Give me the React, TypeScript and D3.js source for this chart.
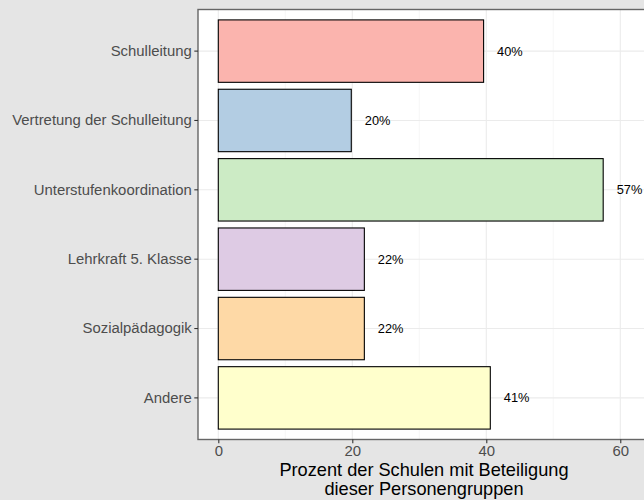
import React, { useEffect, useRef } from "react";
import * as d3 from "d3";

const categories = [
  "Schulleitung",
  "Vertretung der Schulleitung",
  "Unterstufenkoordination",
  "Lehrkraft 5. Klasse",
  "Sozialpädagogik",
  "Andere",
];
const values = [39.6, 19.85, 57.45, 21.8, 21.8, 40.6];
const labels = ["40%", "20%", "57%", "22%", "22%", "41%"];
const colors = ["#FBB4AE", "#B3CDE3", "#CCEBC5", "#DECBE4", "#FED9A6", "#FFFFCC"];
const xTicks = [0, 20, 40, 60];
const xMinor = [10, 30, 50];

const App = () => {
  const svgRef = useRef<SVGSVGElement | null>(null);

  useEffect(() => {
    const width = 644;
    const height = 500;
    const panel = { left: 198, top: 9.5, right: 646, bottom: 439.5 };
    const font = "'Liberation Sans', Arial, sans-serif";

    const svg = d3.select(svgRef.current);
    svg.selectAll("*").remove();
    svg.attr("width", width).attr("height", height);

    svg.append("rect").attr("width", width).attr("height", height).attr("fill", "#e5e5e5");

    // x scale with ggplot-style 5% expansion
    const x = d3
      .scaleLinear()
      .domain([-3.03, 63.84])
      .range([panel.left, panel.right]);

    // discrete y with 0.6 expansion on each side
    const y = d3
      .scaleBand()
      .domain(categories)
      .range([panel.top, panel.bottom])
      .paddingInner(0.1)
      .paddingOuter(0.15);

    // panel
    svg
      .append("rect")
      .attr("x", panel.left)
      .attr("y", panel.top)
      .attr("width", panel.right - panel.left)
      .attr("height", panel.bottom - panel.top)
      .attr("fill", "white");

    const grid = svg.append("g");
    grid
      .selectAll("line.minor")
      .data(xMinor)
      .join("line")
      .attr("x1", (d) => x(d))
      .attr("x2", (d) => x(d))
      .attr("y1", panel.top)
      .attr("y2", panel.bottom)
      .attr("stroke", "#f0f0f0")
      .attr("stroke-width", 0.6);
    grid
      .selectAll("line.major")
      .data(xTicks)
      .join("line")
      .attr("x1", (d) => x(d))
      .attr("x2", (d) => x(d))
      .attr("y1", panel.top)
      .attr("y2", panel.bottom)
      .attr("stroke", "#ebebeb")
      .attr("stroke-width", 1.1);
    grid
      .selectAll("line.h")
      .data(categories)
      .join("line")
      .attr("x1", panel.left)
      .attr("x2", panel.right)
      .attr("y1", (d) => y(d)! + y.bandwidth() / 2)
      .attr("y2", (d) => y(d)! + y.bandwidth() / 2)
      .attr("stroke", "#ebebeb")
      .attr("stroke-width", 1.1);

    // bars
    svg
      .append("g")
      .selectAll("rect")
      .data(categories)
      .join("rect")
      .attr("x", x(0))
      .attr("y", (d) => y(d)!)
      .attr("width", (d, i) => x(values[i]) - x(0))
      .attr("height", y.bandwidth())
      .attr("fill", (d, i) => colors[i])
      .attr("stroke", "black")
      .attr("stroke-width", 1.1);

    // value labels
    svg
      .append("g")
      .selectAll("text")
      .data(categories)
      .join("text")
      .attr("x", (d, i) => x(values[i]) + 13.5)
      .attr("y", (d) => y(d)! + y.bandwidth() / 2)
      .attr("dy", "0.35em")
      .attr("font-family", font)
      .attr("font-size", 12.8)
      .attr("fill", "black")
      .text((d, i) => labels[i]);

    // panel border
    svg
      .append("rect")
      .attr("x", panel.left)
      .attr("y", panel.top)
      .attr("width", panel.right - panel.left)
      .attr("height", panel.bottom - panel.top)
      .attr("fill", "none")
      .attr("stroke", "#666666")
      .attr("stroke-width", 1.4);

    // y axis
    const yAxis = svg
      .append("g")
      .attr("transform", `translate(${panel.left},0)`)
      .call(d3.axisLeft(y).tickSize(3.7).tickPadding(2.5));
    yAxis.select(".domain").remove();
    yAxis.selectAll(".tick line").attr("stroke", "#333333").attr("stroke-width", 1.1);
    yAxis
      .selectAll(".tick text")
      .attr("font-family", font)
      .attr("font-size", 14.9)
      .attr("fill", "#4d4d4d");

    // x axis
    const xAxis = svg
      .append("g")
      .attr("transform", `translate(0,${panel.bottom})`)
      .call(d3.axisBottom(x).tickValues(xTicks).tickSize(3.7).tickPadding(2.5));
    xAxis.select(".domain").remove();
    xAxis.selectAll(".tick line").attr("stroke", "#333333").attr("stroke-width", 1.1);
    xAxis
      .selectAll(".tick text")
      .attr("font-family", font)
      .attr("font-size", 14.9)
      .attr("fill", "#4d4d4d");

    // axis title
    const cx = 424;
    const title = svg
      .append("text")
      .attr("x", cx)
      .attr("y", 476)
      .attr("text-anchor", "middle")
      .attr("font-family", font)
      .attr("font-size", 18.2)
      .attr("fill", "black");
    title.append("tspan").attr("x", cx).text("Prozent der Schulen mit Beteiligung");
    title.append("tspan").attr("x", cx).attr("dy", 18.8).text("dieser Personengruppen");
  }, []);

  return <svg ref={svgRef} style={{ position: "absolute", left: 0, top: 0 }}></svg>;
};

export default App;
